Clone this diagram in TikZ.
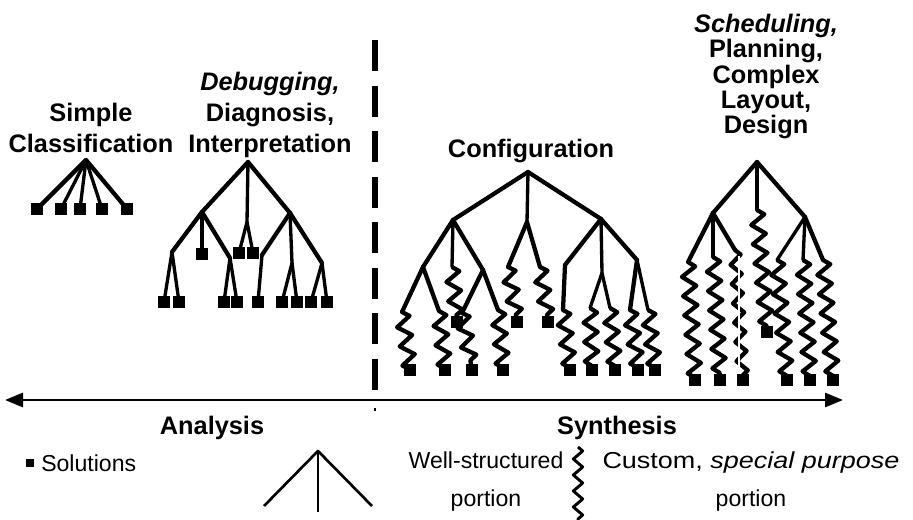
\documentclass[tikz,border=0pt]{standalone}
\usepackage{fontspec}
\setmainfont{Liberation Sans}
\newfontfamily\widesans[FakeStretch=1.17]{Liberation Sans}
\usetikzlibrary{decorations.pathmorphing, arrows.meta}

\begin{document}
\begin{tikzpicture}[x=0.75pt,y=-0.75pt,
  branch/.style={line width=3.2pt, line cap=round, line join=round},
  stem/.style={line width=2.5pt, line cap=round, line join=round},
  wiggle/.style={line width=3.2pt, line join=round, decorate,
    decoration={zigzag, amplitude=5.2pt, segment length=14.5pt}},
  leaf/.style={rectangle, fill=black, inner sep=0pt, minimum size=8.5pt},
  title/.style={font=\fontsize{19}{23.3}\selectfont\bfseries, align=center, inner sep=0pt},
  tallstack/.style={font=\fontsize{19}{19.1}\selectfont\bfseries, align=center, inner sep=0pt},
  legend/.style={font=\fontsize{17.3}{27.8}\selectfont, align=center, inner sep=0pt},
]
\useasboundingbox (0,0) rectangle (913,520);

% ---------- headings (base = baseline of the last line) ----------
\node[title, anchor=base] (simple) at (91,153) {Simple\\Classification};
\node[title, anchor=base] (debug) at (270,153) {\textit{Debugging,}\\Diagnosis,\\Interpretation};
\node[title, anchor=base] (config) at (531,158) {Configuration};
\node[tallstack, anchor=base] (sched) at (766,134) {\textit{Scheduling,}\\Planning,\\Complex\\Layout,\\Design};

% ---------- simple classification: one flat fan ----------
\coordinate (s0) at (86,160);
\foreach \i/\x in {1/37,2/61,3/80,4/102,5/127}
  \node[leaf, minimum size=9pt] (s\i) at (\x,209) {};
\draw[branch] (s0) -- (s1.center);
\draw[stem] (s0) -- (s2.center);
\draw[stem] (s0) -- (s3.center);
\draw[stem] (s0) -- (s4.center);
\draw[branch] (s0) -- (s5.center);

% ---------- debugging / diagnosis tree ----------
\coordinate (d0) at (248,162);
\coordinate (d1) at (202,212);
\coordinate (d2) at (247,222);
\coordinate (d3) at (290,213);
\coordinate (d11) at (172,252);
\coordinate (d13) at (230,258);
\coordinate (d31) at (262,255);
\coordinate (d32) at (292,263);
\coordinate (d33) at (322,263);
\foreach \i/\x/\y in {1/164/302,2/179/302,3/202/254,4/224/302,5/237/302,6/239/253,
                      7/253/253,8/258/302,9/282/302,10/297/302,11/311/302,12/327/302}
  \node[leaf] (dl\i) at (\x,\y) {};
\draw[branch] (d0) -- (d1);
\draw[stem] (d0) -- (d2);
\draw[branch] (d0) -- (d3);
\draw[branch] (d1) -- (d11);
\draw[stem] (d1) -- (dl3.center);
\draw[branch] (d1) -- (d13);
\draw[stem] (d11) -- (dl1.center);
\draw[stem] (d11) -- (dl2.center);
\draw[stem] (d13) -- (dl4.center);
\draw[stem] (d13) -- (dl5.center);
\draw[stem] (d2) -- (dl6.center);
\draw[stem] (d2) -- (dl7.center);
\draw[branch] (d3) -- (d31);
\draw[stem] (d31) -- (dl8.center);
\draw[stem] (d3) -- (d32);
\draw[branch] (d3) -- (d33);
\draw[stem] (d32) -- (dl9.center);
\draw[stem] (d32) -- (dl10.center);
\draw[stem] (d33) -- (dl11.center);
\draw[stem] (d33) -- (dl12.center);

% ---------- configuration tree ----------
\coordinate (c0) at (528,172);
\coordinate (ca) at (453,220);
\coordinate (cm) at (527,222);
\coordinate (cc) at (601,219);
\coordinate (ca1) at (423,267);
\coordinate (ca2) at (452,267);
\coordinate (ca3) at (483,270);
\coordinate (cc1) at (565,265);
\coordinate (cc1b) at (563,310);
\coordinate (cc2) at (602,273);
\coordinate (cc3) at (637,260);
% starts of the custom portions
\coordinate (z1) at (402,312);
\coordinate (z2) at (439,311);
\coordinate (z4) at (462,313);
\coordinate (z5) at (498,310);
\coordinate (z6) at (508,267);
\coordinate (z7) at (540,267);
\coordinate (z9) at (590,308);
\coordinate (z10) at (610,308);
\coordinate (z11) at (630,310);
\coordinate (z12) at (648,310);
\foreach \i/\x/\y in {1/410/370,2/445/370,3/457/322,4/472/370,5/503/370,6/517/322,
                      7/548/322,8/570/370,9/592/370,10/615/370,11/638/370,12/655/370}
  \node[leaf] (cl\i) at (\x,\y) {};
\draw[branch] (c0) -- (ca);
\draw[stem] (c0) -- (cm);
\draw[branch] (c0) -- (cc);
\draw[branch] (ca) -- (ca1);
\draw[stem] (ca) -- (ca2);
\draw[branch] (ca) -- (ca3);
\draw[branch] (ca1) -- (z1);
\draw[branch] (ca1) -- (z2);
\draw[branch] (ca3) -- (z4);
\draw[branch] (ca3) -- (z5);
\draw[branch] (cm) -- (z6);
\draw[branch] (cm) -- (z7);
\draw[branch] (cc) -- (cc1) -- (cc1b);
\draw[stem] (cc) -- (cc2);
\draw[branch] (cc) -- (cc3);
\draw[stem] (cc2) -- (z9);
\draw[stem] (cc2) -- (z10);
\draw[branch] (cc3) -- (z11);
\draw[stem] (cc3) -- (z12);
\draw[wiggle] (z1) -- (cl1.center);
\draw[wiggle] (z2) -- (cl2.center);
\draw[wiggle] (ca2) -- (cl3.center);
\draw[wiggle] (z4) -- (cl4.center);
\draw[wiggle] (z5) -- (cl5.center);
\draw[wiggle] (z6) -- (cl6.center);
\draw[wiggle] (z7) -- (cl7.center);
\draw[wiggle] (cc1b) -- (cl8.center);
\draw[wiggle] (z9) -- (cl9.center);
\draw[wiggle] (z10) -- (cl10.center);
\draw[wiggle] (z11) -- (cl11.center);
\draw[wiggle] (z12) -- (cl12.center);

% ---------- scheduling / planning / design tree ----------
\coordinate (h0) at (757,162);
\coordinate (h1) at (713,213);
\coordinate (hm) at (757,210);
\coordinate (h3) at (805,217);
\coordinate (y1) at (688,262);
\coordinate (y2) at (713,257);
\coordinate (y3) at (735,250);
\coordinate (y4) at (777,260);
\coordinate (y5) at (803,260);
\coordinate (y6) at (823,260);
\foreach \i/\x/\y in {0/767/332,1/695/380,2/720/380,3/743/380,4/787/380,5/810/380,6/833/380}
  \node[leaf] (hl\i) at (\x,\y) {};
\draw[branch] (h0) -- (h1);
\draw[stem] (h0) -- (hm);
\draw[branch] (h0) -- (h3);
\draw[branch] (h1) -- (y1);
\draw[stem] (h1) -- (y2);
\draw[branch] (h1) -- (y3);
\draw[stem] (h3) -- (y4);
\draw[stem] (h3) -- (y5);
\draw[branch] (h3) -- (y6);
\draw[wiggle] (hm) -- (hl0.center);
\draw[wiggle] (y1) -- (hl1.center);
\draw[wiggle] (y2) -- (hl2.center);
\draw[wiggle, decoration={amplitude=4pt}] (y3) -- (hl3.center);
\draw[white, line width=1.2pt] (y3) ++(4,6) coordinate (cut0) -- (cut0 |- hl3.north);
\draw[wiggle] (y4) -- (hl4.center);
\draw[wiggle] (y5) -- (hl5.center);
\draw[wiggle] (y6) -- (hl6.center);

% ---------- analysis / synthesis divider ----------
\coordinate (divT) at (375,40);
\coordinate (divB) at (375,392);
\draw[line width=3.8pt, dash pattern=on 23.25pt off 10.9pt] (divT) -- (divB);
\coordinate (mkT) at (375,408);
\coordinate (mkB) at (375,411);
\draw[line width=1.8pt] (mkT) -- (mkB);

% ---------- axis ----------
\coordinate (axL) at (5,400);
\coordinate (axR) at (843,400);
\draw[line width=2.2pt, {Triangle[length=13.5pt,width=10.5pt]}-{Triangle[length=13.5pt,width=10.5pt]}] (axL) -- (axR);
\node[title, anchor=base] (ana) at (212,434) {Analysis};
\node[title, anchor=base] (syn) at (617,434) {Synthesis};

% ---------- legend ----------
\node[leaf, minimum size=6pt] (solsq) at (30,463) {};
\node[legend, anchor=west] (sol) at (41,463) {Solutions};
\coordinate (wa) at (318,451);
\coordinate (wl) at (264,506);
\coordinate (wr) at (372,506);
\coordinate (wm) at (318,512);
\draw[line width=2pt, line join=round] (wl) -- (wa) -- (wr);
\draw[line width=1.4pt] (wa) -- (wm);
\node[legend, anchor=base] (ws) at (486,506) {Well-structured\\portion};
\coordinate (za) at (578,447);
\coordinate (zb) at (578,521);
\draw[line width=2.2pt, line join=round, decorate,
  decoration={zigzag, amplitude=3.5pt, segment length=12pt}] (za) -- (zb);
\node[legend, anchor=base] (cs) at (751,506) {\widesans Custom, \textit{special purpose}\\portion};
\end{tikzpicture}
\end{document}
